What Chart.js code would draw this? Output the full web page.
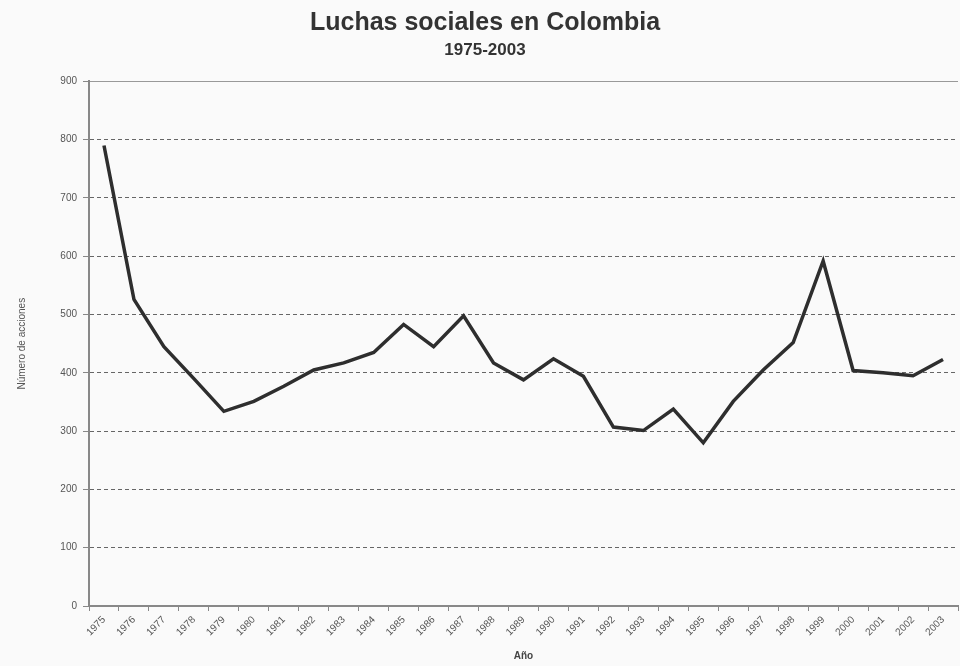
<!DOCTYPE html>
<html>
<head>
<meta charset="utf-8">
<script src="https://cdn.jsdelivr.net/npm/chart.js@4.4.0/dist/chart.umd.min.js"></script>
<style>
  html, body { margin: 0; padding: 0; background: #fafafa; }
  #wrap { width: 960px; height: 666px; }
</style>
</head>
<body>
<div id="wrap"><canvas id="chart" width="960" height="666"></canvas></div>
<script>
// Datos
const years = ['1975','1976','1977','1978','1979','1980','1981','1982','1983','1984',
  '1985','1986','1987','1988','1989','1990','1991','1992','1993','1994',
  '1995','1996','1997','1998','1999','2000','2001','2002','2003'];
const acciones = [790, 526, 445, 390, 334, 351, 377, 405, 417, 435,
  483, 445, 498, 417, 388, 424, 394, 307, 301, 338,
  280, 351, 405, 452, 592, 404, 400, 395, 423];
const yTicks = [0, 100, 200, 300, 400, 500, 600, 700, 800, 900];

const ctx = document.getElementById('chart').getContext('2d');

new Chart(ctx, {
  type: 'line',
  data: {
    labels: years,
    datasets: [{
      label: 'Número de acciones',
      data: acciones,
      borderColor: '#2e2e2e',
      borderWidth: 3.5,
      pointRadius: 0,
      tension: 0,
      fill: false
    }]
  },
  options: {
    responsive: false,
    animation: false,
    layout: { padding: { right: 2, top: 4, left: 12 } },
    plugins: {
      legend: { display: false },
      tooltip: { enabled: false },
      title: {
        display: true,
        text: 'Luchas sociales en Colombia',
        color: '#333',
        font: { family: 'Liberation Sans, Arial', size: 25, weight: 'bold' },
        padding: { top: 4, bottom: 0 }
      },
      subtitle: {
        display: true,
        text: '1975-2003',
        color: '#333',
        font: { family: 'Liberation Sans, Arial', size: 17, weight: 'bold' },
        padding: { top: 2, bottom: 21 }
      }
    },
    scales: {
      x: {
        offset: true,
        grid: {
          offset: true,
          drawOnChartArea: false,
          drawTicks: true,
          tickLength: 5,
          color: '#888'
        },
        border: { color: '#888', width: 2 },
        ticks: {
          autoSkip: false,
          minRotation: 45,
          maxRotation: 45,
          color: '#555',
          font: { family: 'Liberation Sans, Arial', size: 10 }
        },
        title: {
          display: true,
          text: 'Año',
          color: '#444',
          font: { family: 'Liberation Sans, Arial', size: 10, weight: 'bold' },
          padding: { top: 0 }
        },
        afterFit: (scale) => { scale.height = 60; }
      },
      y: {
        min: 0,
        max: 900,
        afterBuildTicks: (scale) => { scale.ticks = yTicks.map(v => ({ value: v })); },
        grid: {
          color: (c) => c.tick && c.tick.value === 900 ? '#999' : '#666',
          tickLength: 6,
          tickColor: '#888'
        },
        border: {
          color: '#888',
          width: 2,
          dash: (c) => c.tick && c.tick.value === 900 ? [] : [4, 3]
        },
        ticks: {
          color: '#555',
          padding: 6,
          font: { family: 'Liberation Sans, Arial', size: 10 }
        },
        title: {
          display: true,
          text: 'Número de acciones',
          color: '#555',
          font: { family: 'Liberation Sans, Arial', size: 10 }
        },
        afterFit: (scale) => { scale.width = 77; }
      }
    }
  }
});
</script>
</body>
</html>
